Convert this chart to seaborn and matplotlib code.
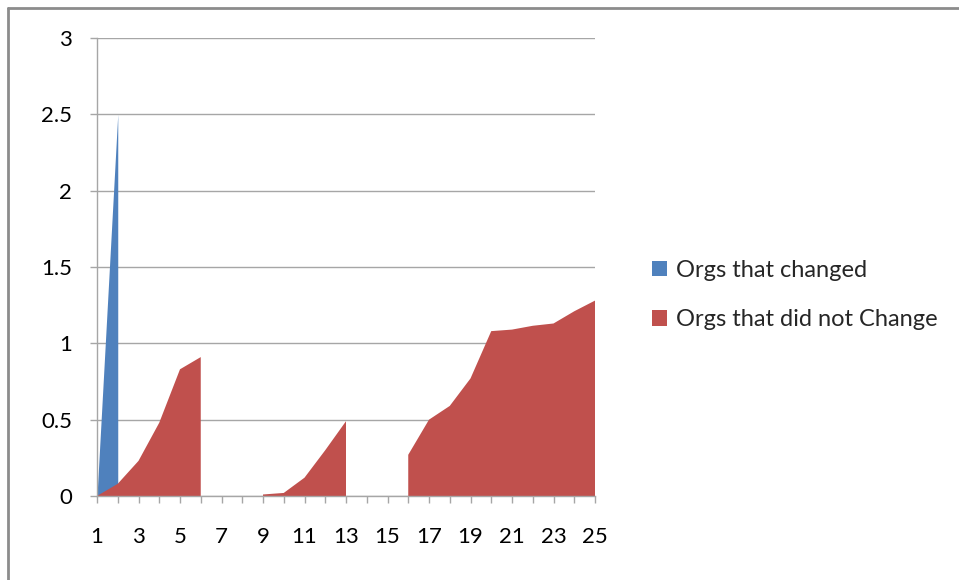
import numpy as np
import matplotlib
matplotlib.use("Agg")
import matplotlib.pyplot as plt
from matplotlib.patches import Patch
from matplotlib.lines import Line2D
import seaborn as sns

# data (nan = no value, gap in the area)
categories = list(range(1, 26))
changed = [0, 2.5] + [np.nan] * 23
not_changed = [0, 0.08, 0.23, 0.48, 0.83, 0.91, np.nan, np.nan,
               0.01, 0.02, 0.12, 0.30, 0.49, np.nan, np.nan,
               0.27, 0.50, 0.59, 0.77, 1.08, 1.09, 1.115, 1.13, 1.21, 1.28]
series_names = ["Orgs that changed", "Orgs that did not Change"]
colors = ["#4F81BD", "#C0504D"]

sns.set_style("white")
plt.rcParams['font.family'] = ['Lato', 'DejaVu Sans']

fig = plt.figure(figsize=(9.59, 5.80), dpi=100)
ax = fig.add_axes([97/959, 84/580, 498/959, 458/580])

x = np.array(categories, dtype=float)
ax.fill_between(x, 0, np.array(changed, dtype=float), color=colors[0], lw=0)
ax.fill_between(x, 0, np.array(not_changed, dtype=float), color=colors[1], lw=0)

ax.set_xlim(1, 25)
ax.set_ylim(0, 3)
ax.set_yticks(np.arange(0, 3.01, 0.5))
ax.set_yticklabels(["0", "0.5", "1", "1.5", "2", "2.5", "3"])
ax.set_xticks(categories)
ax.set_xticklabels([str(c) if c % 2 == 1 else "" for c in categories])
ax.grid(axis="y", color="#a6a6a6", lw=1)
ax.set_axisbelow(True)

sns.despine(ax=ax, top=True, right=True)
for s in ["left", "bottom"]:
    ax.spines[s].set_color("#a6a6a6")
    ax.spines[s].set_linewidth(1)
ax.tick_params(axis="both", direction="out", length=5, width=1, color="#a6a6a6",
               labelsize=16, labelcolor="#000000")
ax.tick_params(axis="y", pad=13, left=True)
ax.tick_params(axis="x", pad=17, bottom=True)

handles = [Patch(facecolor=c, edgecolor="none") for c in colors]
fig.legend(handles, series_names, loc="center left", bbox_to_anchor=(652/959, 1 - 295/580),
           frameon=False, fontsize=17, handlelength=0.65, handleheight=0.65,
           handletextpad=0.35, labelspacing=1.2, borderpad=0, borderaxespad=0)

# outer chart border (top and left visible)
fig.add_artist(Line2D([8/959, 1], [1 - 8/580, 1 - 8/580], transform=fig.transFigure,
                      color="#8c8c8c", lw=2))
fig.add_artist(Line2D([8/959, 8/959], [0, 1 - 8/580], transform=fig.transFigure,
                      color="#8c8c8c", lw=2))

fig.savefig("out.png", dpi=100)
